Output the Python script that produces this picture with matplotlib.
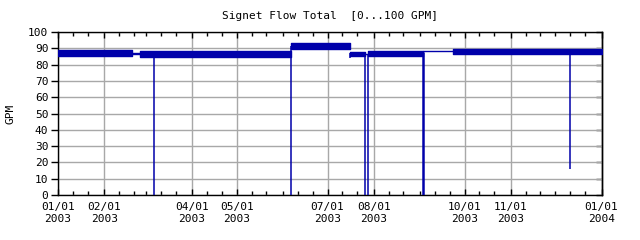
import numpy as np
import matplotlib.pyplot as plt
import matplotlib.dates as mdates

plt.rcParams["font.family"] = ["DejaVu Sans Mono"]
plt.rcParams["font.size"] = 8

BLUE = "#0000aa"
GRID = "#a8a8a8"

# Flow band segments: start, end, band bottom, band top (GPM)
SEG_START = np.array(["2003-01-01", "2003-02-20", "2003-02-25", "2003-06-06T12",
                      "2003-07-16", "2003-07-26", "2003-07-28", "2003-09-03",
                      "2003-09-23"], dtype="datetime64[h]")
SEG_END = np.array(["2003-02-20", "2003-02-25", "2003-06-06T12", "2003-07-16",
                    "2003-07-26", "2003-07-28", "2003-09-03", "2003-09-23",
                    "2004-01-01"], dtype="datetime64[h]")
SEG_LOW = [85.0, 86.6, 84.8, 89.8, 85.3, 86.5, 85.1, 88.3, 86.6]
SEG_HIGH = [88.8, 87.2, 88.4, 93.2, 87.7, 86.5, 88.6, 88.3, 89.8]

# Short drops out of the band: date, top, bottom (GPM)
DROP_DATE = np.array(["2003-03-06T14", "2003-06-06T12", "2003-07-16",
                      "2003-07-26T12", "2003-07-28", "2003-09-03",
                      "2003-12-11"], dtype="datetime64[h]")
DROP_TOP = [86.0, 91.5, 87.0, 86.5, 86.5, 88.0, 88.0]
DROP_BOTTOM = [0, 0, 83.8, 0, 0, 0, 16]
DROP_WIDTH = [1.1, 1.1, 1.1, 1.1, 1.1, 1.8, 1.1]

LABEL_MONTHS = np.array(["2003-01-01", "2003-02-01", "2003-04-01", "2003-05-01",
                         "2003-07-01", "2003-08-01", "2003-10-01", "2003-11-01",
                         "2004-01-01"], dtype="datetime64[D]")

fig = plt.figure(figsize=(6.4, 2.4), dpi=100)
ax = fig.add_axes([58 / 640, 1 - 195 / 240, 543.5 / 640, 163 / 240])

for s, e, lo, hi in zip(SEG_START, SEG_END, SEG_LOW, SEG_HIGH):
    ax.fill_between([s, e], [lo, lo], [hi, hi], color=BLUE,
                    edgecolor=BLUE, linewidth=1.0, zorder=3)

ax.vlines(DROP_DATE, DROP_BOTTOM, DROP_TOP, color=BLUE,
          linewidths=DROP_WIDTH, zorder=3)

ax.set_xlim(np.datetime64("2003-01-01"), np.datetime64("2004-01-01"))
ax.set_ylim(0, 100)

ax.set_xticks(LABEL_MONTHS)
ax.xaxis.set_major_formatter(mdates.DateFormatter("%m/%d\n%Y"))
ax.xaxis.set_minor_locator(mdates.DayLocator(bymonthday=[1, 11, 21]))
ax.set_yticks(np.arange(0, 101, 10))

ax.grid(True, which="major", color=GRID, linewidth=1.0, zorder=0)
ax.tick_params(axis="x", which="both", direction="in", top=True,
               bottom=True, pad=5, colors="black")
ax.tick_params(axis="x", which="major", length=4, width=1)
ax.tick_params(axis="x", which="minor", length=3, width=1)
ax.tick_params(axis="y", direction="out", length=5, width=1, pad=2)

right = ax.secondary_yaxis("right")
right.set_yticks(np.arange(0, 101, 10))
right.tick_params(direction="in", length=4, width=1, labelright=False)

for sp in list(ax.spines.values()) + [right.spines["right"]]:
    sp.set_linewidth(1.0)
    sp.set_color("black")

fig.text(329.75 / 640, 1 - 16 / 240, "Signet Flow Total  [0...100 GPM]",
         ha="center", va="center")
fig.text(10 / 640, 1 - 113.5 / 240, "GPM", rotation=90,
         ha="center", va="center")

fig.savefig("out.png", dpi=100)
